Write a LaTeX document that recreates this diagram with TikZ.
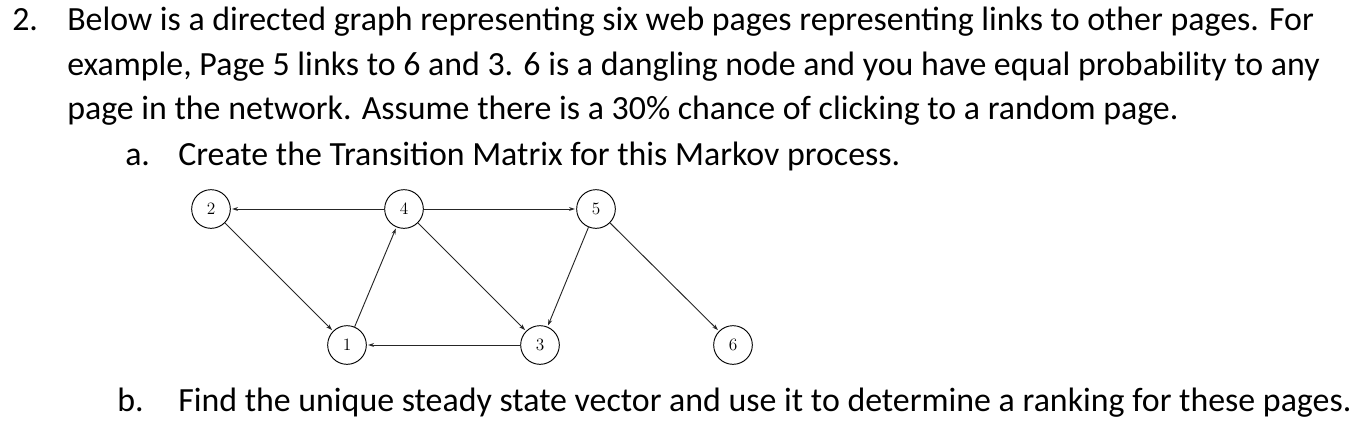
\documentclass[tikz,border=0pt]{standalone}
\usepackage{fontspec}
\setmainfont{Carlito}
\newfontfamily\lmfont{Latin Modern Roman}
\usetikzlibrary{arrows.meta}
\begin{document}
\begin{tikzpicture}[x=0.75pt,y=-0.75pt,
  pg/.style={circle,draw,line width=0.7pt,minimum size=29pt,inner sep=0pt,font=\lmfont\fontsize{13}{13}\selectfont},
  ln/.style={-{Stealth[length=4.5pt,width=3pt]},line width=0.7pt,draw=black!85,shorten >=1pt},
  tx/.style={anchor=base west,inner sep=0pt,font=\fontsize{25.4}{30}\selectfont}]
\useasboundingbox (0,0) rectangle (1365,426);
\node[tx] (n2) at (12,30) {2.};
\node[tx] (l1) at (67,30) {Below is a directed graph representing six web pages representing links to other pages. For};
\node[tx] (l2) at (67,75) {example, Page 5 links to 6 and 3. 6 is a dangling node and you have equal probability to any};
\node[tx] (l3) at (67,119) {page in the network. Assume there is a 30\% chance of clicking to a random page.};
\node[tx] (na) at (125,165) {a.};
\node[tx] (la) at (178,165) {Create the Transition Matrix for this Markov process.};
\node[tx] (nb) at (117,411) {b.};
\node[tx] (lb) at (178,411) {Find the unique steady state vector and use it to determine a ranking for these pages.};
\node[pg] (p2) at (211,209) {2};
\node[pg] (p4) at (404,209) {4};
\node[pg] (p5) at (596,209) {5};
\node[pg] (p1) at (347,345) {1};
\node[pg] (p3) at (540,345) {3};
\node[pg] (p6) at (733,345) {6};
\draw[ln] (p4) -- (p2);
\draw[ln] (p4) -- (p5);
\draw[ln] (p2) -- (p1);
\draw[ln] (p1) -- (p4);
\draw[ln] (p4) -- (p3);
\draw[ln] (p5) -- (p3);
\draw[ln] (p3) -- (p1);
\draw[ln] (p5) -- (p6);
\end{tikzpicture}
\end{document}
